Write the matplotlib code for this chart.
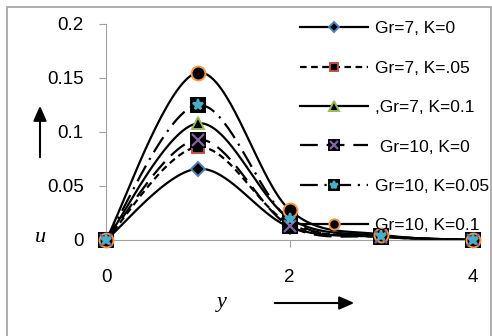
import numpy as np
import matplotlib.pyplot as plt
from matplotlib.patches import Rectangle

# data
y_pos = [0, 1, 2, 3, 4]
gr7_k0 = [0, 0.066, 0.012, 0.003, 0]
gr7_k05 = [0, 0.086, 0.015, 0.003, 0]
gr7_k1 = [0, 0.108, 0.020, 0.004, 0]
gr10_k0 = [0, 0.093, 0.013, 0.003, 0]
gr10_k05 = [0, 0.125, 0.019, 0.004, 0]
gr10_k1 = [0, 0.155, 0.028, 0.005, 0]
labels = ['Gr=7, K=0', 'Gr=7, K=.05', ',Gr=7, K=0.1',
          ' Gr=10, K=0', 'Gr=10, K=0.05', 'Gr=10, K=0.1']


def smooth(xs, ys, n=40):
    # excel-like smoothed line (bezier, tension 1/6)
    xs = np.asarray(xs, float)
    ys = np.asarray(ys, float)
    px = np.concatenate([[xs[0]], xs, [xs[-1]]])
    py = np.concatenate([[ys[0]], ys, [ys[-1]]])
    ox, oy = [], []
    t = np.linspace(0, 1, n)
    for i in range(1, len(px) - 2):
        p0 = np.array([px[i], py[i]])
        p3 = np.array([px[i + 1], py[i + 1]])
        p1 = p0 + (np.array([px[i + 1], py[i + 1]]) - np.array([px[i - 1], py[i - 1]])) / 6
        p2 = p3 - (np.array([px[i + 2], py[i + 2]]) - np.array([px[i], py[i]])) / 6
        b = ((1 - t) ** 3)[:, None] * p0 + (3 * (1 - t) ** 2 * t)[:, None] * p1 \
            + (3 * (1 - t) * t ** 2)[:, None] * p2 + (t ** 3)[:, None] * p3
        ox.extend(b[:, 0])
        oy.extend(b[:, 1])
    return ox, oy


plt.rcParams['font.family'] = ['Liberation Sans', 'DejaVu Sans']
fig = plt.figure(figsize=(4.92, 3.36), dpi=100)
ax = fig.add_axes([106 / 492, 1 - 240 / 336, 367 / 492, 216 / 336])

series = [gr7_k0, gr7_k05, gr7_k1, gr10_k0, gr10_k05, gr10_k1]
styles = ['-', (0, (3, 2)), '-', (0, (8, 4)), (0, (8, 3, 1, 3)), '-']
markers = [('D', '#4F81BD', 7), ('s', '#C0504D', 8), ('^', '#9BBB59', 9),
           ('s', '#000000', 10), ('s', '#000000', 10), ('o', '#F79646', 10)]
overlay = {3: ('x', '#8064A2'), 4: ('*', '#4BACC6')}

handles = []
for i, vals in enumerate(series):
    sx, sy = smooth(y_pos, vals)
    ln, = ax.plot(sx, sy, color='black', lw=1.6, linestyle=styles[i], clip_on=False)
    m, ec, ms = markers[i]
    mk, = ax.plot(y_pos, vals, linestyle='none', marker=m, markersize=ms,
                  markerfacecolor='black', markeredgecolor=ec, markeredgewidth=1.4,
                  clip_on=False, zorder=3)
    h = [ln, mk]
    if i in overlay:
        om, oc = overlay[i]
        ov, = ax.plot(y_pos, vals, linestyle='none', marker=om, markersize=8,
                      color=oc, markeredgewidth=1.6, clip_on=False, zorder=4)
        h.append(ov)
    handles.append(tuple(h))

ax.set_xlim(0, 4)
ax.set_ylim(0, 0.2)
ax.set_xticks([0, 2, 4])
ax.set_xticklabels(['0', '2', '4'])
ax.set_yticks([0, 0.05, 0.1, 0.15, 0.2])
ax.set_yticklabels(['0', '0.05', '0.1', '0.15', '0.2'])
for s in ['top', 'right']:
    ax.spines[s].set_visible(False)
for s in ['left', 'bottom']:
    ax.spines[s].set_color('#A0A0A0')
ax.tick_params(axis='both', colors='#A0A0A0', labelcolor='black', labelsize=13.5, length=5)
ax.tick_params(axis='y', pad=11)
ax.tick_params(axis='x', pad=16)

fig.legend(handles, labels, loc='upper left', bbox_to_anchor=(300 / 492, 1 - 21 / 336),
           frameon=False, fontsize=12.5, handlelength=3.9, labelspacing=1.4,
           handletextpad=0.4, borderpad=0, borderaxespad=0, markerscale=0.75)

# axis letters and arrows
fig.text(40 / 492, 1 - 237 / 336, 'u', fontsize=16, style='italic', family='Liberation Serif',
         ha='center', va='center')
fig.text(222 / 492, 1 - 303 / 336, 'y', fontsize=16, style='italic', family='Liberation Serif',
         ha='center', va='center')
fig.add_artist(plt.Annotation('', xy=(40 / 492, 1 - 103 / 336), xytext=(40 / 492, 1 - 160 / 336),
                              xycoords='figure fraction',
                              arrowprops=dict(arrowstyle='-|>,head_length=0.9,head_width=0.4',
                                              color='black', lw=1.5)))
fig.add_artist(plt.Annotation('', xy=(357 / 492, 1 - 303 / 336), xytext=(272 / 492, 1 - 303 / 336),
                              xycoords='figure fraction',
                              arrowprops=dict(arrowstyle='-|>,head_length=0.9,head_width=0.4',
                                              color='black', lw=1.5)))

fig.add_artist(Rectangle((7 / 492, -0.05), 484 / 492, 1 - 7 / 336 + 0.05, transform=fig.transFigure,
                         fill=False, edgecolor='#A0A0A0', lw=1.2))

fig.savefig('out.png', dpi=100)
